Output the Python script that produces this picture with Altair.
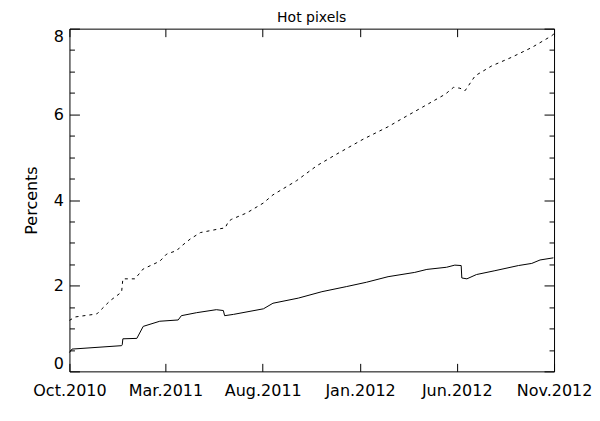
import altair as alt
import pandas as pd

# Solid curve
solid_dates = ["2010-10-01", "2010-10-05", "2010-12-22", "2010-12-23", "2010-12-24",
               "2011-01-15", "2011-01-25", "2011-02-20", "2011-03-21", "2011-03-26",
               "2011-04-19", "2011-05-20", "2011-05-31", "2011-06-02", "2011-06-16",
               "2011-08-02", "2011-08-17", "2011-09-26", "2011-11-02", "2011-12-11",
               "2012-01-11", "2012-02-14", "2012-03-27", "2012-04-15", "2012-05-16",
               "2012-05-29", "2012-06-08", "2012-06-09", "2012-06-17", "2012-07-02",
               "2012-07-31", "2012-09-06", "2012-09-27", "2012-10-10", "2012-10-31"]
solid_values = [0.44, 0.52, 0.60, 0.62, 0.76,
                0.77, 1.05, 1.17, 1.20, 1.30,
                1.37, 1.44, 1.42, 1.30, 1.33,
                1.46, 1.59, 1.71, 1.86, 1.98,
                2.08, 2.21, 2.31, 2.38, 2.43,
                2.48, 2.47, 2.18, 2.16, 2.26,
                2.35, 2.47, 2.52, 2.60, 2.65]

# Dashed curve
dashed_dates = ["2010-10-01", "2010-10-10", "2010-11-13", "2010-12-04", "2010-12-22",
                "2010-12-24", "2011-01-12", "2011-01-25", "2011-02-20", "2011-03-03",
                "2011-03-19", "2011-03-24", "2011-04-09", "2011-04-25", "2011-05-26",
                "2011-06-03", "2011-06-08", "2011-06-13", "2011-07-07", "2011-08-02",
                "2011-08-17", "2011-09-23", "2011-10-25", "2011-11-25", "2012-01-06",
                "2012-02-14", "2012-03-06", "2012-04-12", "2012-05-14", "2012-05-27",
                "2012-06-06", "2012-06-14", "2012-06-30", "2012-07-26", "2012-08-26",
                "2012-09-27", "2012-10-28", "2012-11-01"]
dashed_values = [1.19, 1.27, 1.34, 1.65, 1.85,
                 2.16, 2.16, 2.39, 2.57, 2.74,
                 2.82, 2.90, 3.09, 3.24, 3.33,
                 3.35, 3.50, 3.55, 3.70, 3.93,
                 4.12, 4.45, 4.80, 5.07, 5.42,
                 5.71, 5.89, 6.20, 6.47, 6.63,
                 6.61, 6.55, 6.90, 7.13, 7.33,
                 7.56, 7.83, 7.88]

x_tick_months = [(2010, 10), (2011, 3), (2011, 8), (2012, 1), (2012, 6), (2012, 11)]
y_major = [0, 2, 4, 6, 8]
y_minor = [0.5, 1, 1.5, 2.5, 3, 3.5, 4.5, 5, 5.5, 6.5, 7, 7.5]

df_s = pd.DataFrame({"date": solid_dates, "value": solid_values})
df_d = pd.DataFrame({"date": dashed_dates, "value": dashed_values})

x_vals = [alt.DateTime(year=y, month=m, date=1, utc=True) for y, m in x_tick_months]
xs = alt.Scale(type="utc", domain=[x_vals[0], x_vals[-1]], nice=False)
ys = alt.Scale(domain=[0, 8], nice=False, zero=False)

FONT = "DejaVu Sans"
common = dict(grid=False, domain=False, tickColor="black", tickWidth=1,
              labelFont=FONT, labelFontSize=16, labelColor="black")

x_bottom = alt.Axis(orient="bottom", values=x_vals,
                    labelExpr="utcFormat(datum.value, '%b.%Y')",
                    tickSize=8, offset=-8, labelPadding=11, title=None,
                    labelOverlap=False, labelFlush=False, **common)
x_top = alt.Axis(orient="top", values=x_vals, tickSize=8, offset=-8, labels=False,
                 title=None, **common)
y_left = alt.Axis(orient="left", values=y_major, format="d", tickSize=10, offset=-10,
                  labelPadding=6, labelFlush=True, labelFlushOffset=0, title="Percents",
                  titlePadding=14, titleFont=FONT, titleFontSize=16, titleFontWeight="normal",
                  titleColor="black", labelOverlap=False, **common)
y_left_minor = alt.Axis(orient="left", values=y_minor, tickSize=5, offset=-5, labels=False,
                        title=None, **common)
y_right = alt.Axis(orient="right", values=y_major, tickSize=10, offset=-10, labels=False,
                   title=None, **common)
y_right_minor = alt.Axis(orient="right", values=y_minor, tickSize=5, offset=-5, labels=False,
                         title=None, **common)

solid = alt.Chart(df_s).mark_line(color="black", strokeWidth=1).encode(
    x=alt.X("date:T", scale=xs, axis=x_bottom),
    y=alt.Y("value:Q", scale=ys, axis=y_left),
)
dashed = alt.Chart(df_d).mark_line(color="black", strokeWidth=1, strokeDash=[3, 4]).encode(
    x=alt.X("date:T", scale=xs, axis=None),
    y=alt.Y("value:Q", scale=ys, axis=None),
)
top = alt.Chart(df_s).mark_line(strokeOpacity=0).encode(
    x=alt.X("date:T", scale=xs, axis=x_top),
    y=alt.Y("value:Q", scale=ys, axis=None),
)
lminor = alt.Chart(df_s).mark_line(strokeOpacity=0).encode(
    x=alt.X("date:T", scale=xs, axis=None),
    y=alt.Y("value:Q", scale=ys, axis=y_left_minor),
)
rmajor = alt.Chart(df_s).mark_line(strokeOpacity=0).encode(
    x=alt.X("date:T", scale=xs, axis=None),
    y=alt.Y("value:Q", scale=ys, axis=y_right),
)
rminor = alt.Chart(df_s).mark_line(strokeOpacity=0).encode(
    x=alt.X("date:T", scale=xs, axis=None),
    y=alt.Y("value:Q", scale=ys, axis=y_right_minor),
)

chart = alt.layer(solid, dashed, top, lminor, rmajor, rminor).resolve_axis(
    x="independent", y="independent"
).properties(
    width=485,
    height=343,
    background="white",
    autosize=alt.AutoSizeParams(type="none"),
    padding={"left": 61.5, "top": 20.5, "right": 38, "bottom": 41},
    title=alt.TitleParams("Hot pixels", font=FONT, fontSize=14, fontWeight="normal",
                          color="black", offset=3),
).configure_axis(
    grid=False, domain=False
).configure_view(
    stroke="black", strokeWidth=1
)

chart.save("out.html", embed_options={"renderer": "svg", "actions": False})
